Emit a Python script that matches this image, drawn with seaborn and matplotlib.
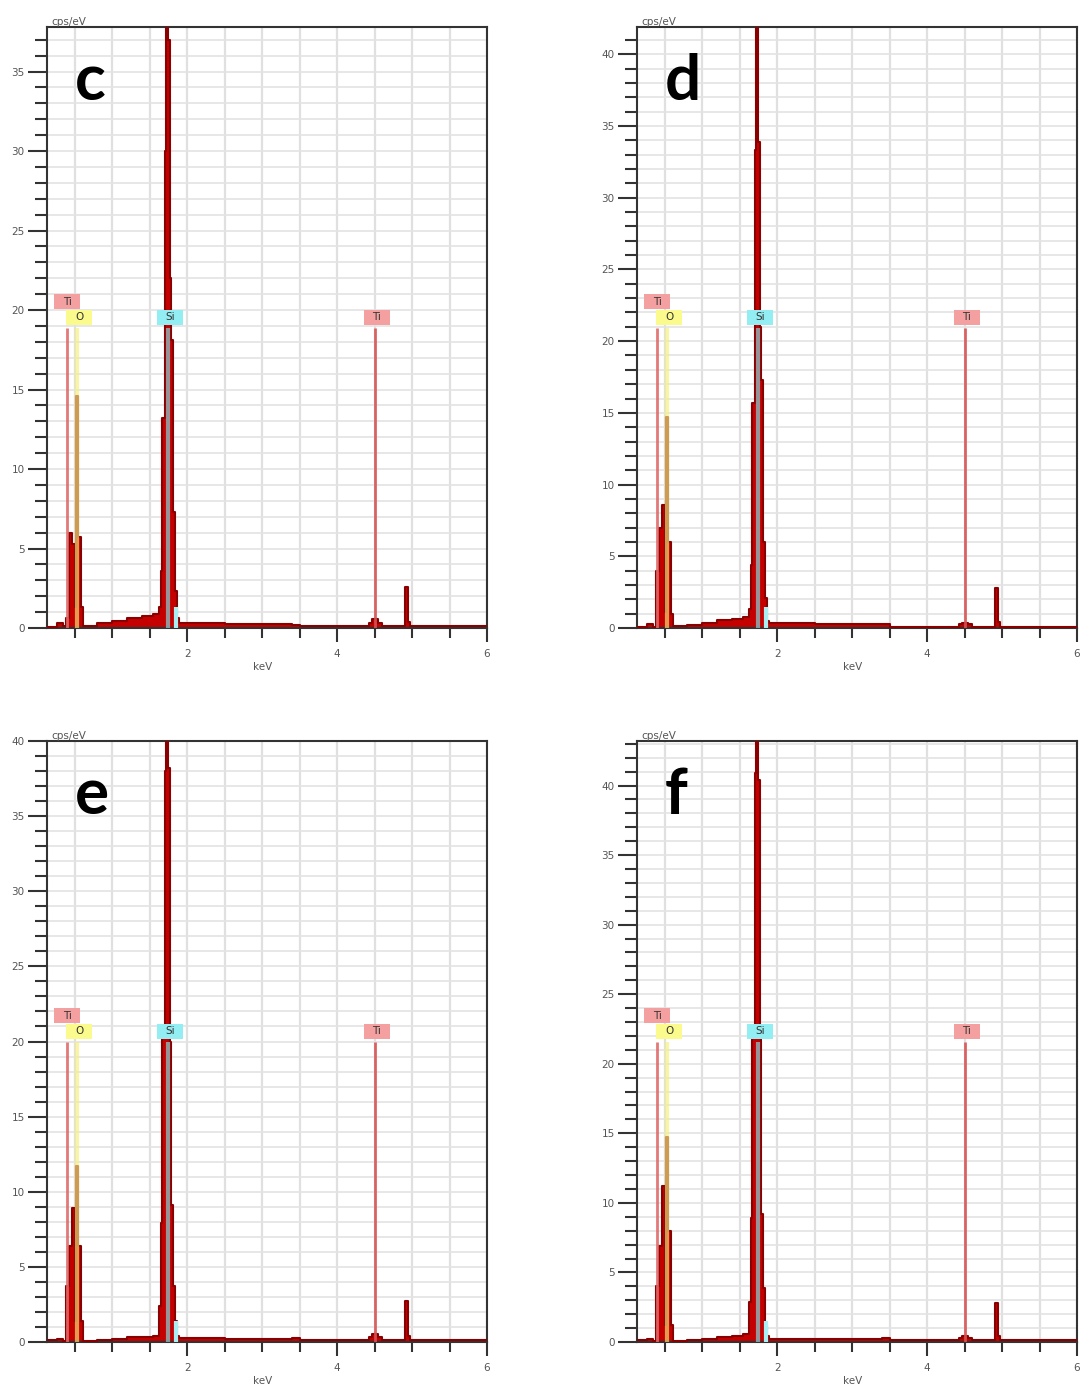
import numpy as np
import matplotlib
matplotlib.use('Agg')
import matplotlib.pyplot as plt
import matplotlib.transforms as mtransforms
from matplotlib.patches import Rectangle
from matplotlib.ticker import MultipleLocator, FixedLocator
import seaborn as sns

# spectrum bins: left edges in keV (last entry closes the final bin)
kev_edges = [0.10, 0.26, 0.34, 0.39, 0.43, 0.47, 0.50, 0.52, 0.55, 0.58, 0.61,
             0.80, 1.00, 1.20, 1.40, 1.55, 1.62, 1.645, 1.67, 1.70, 1.72, 1.745,
             1.765, 1.785, 1.81, 1.835, 1.86, 1.89, 2.50, 3.40, 3.50, 4.00,
             4.42, 4.47, 4.55, 4.60, 4.91, 4.94, 4.97, 6.00]

# cps/eV per bin for each sample
cps_c = [0.08, 0.3, 0.1, 0.6, 6.0, 5.3, 1.3, 14.6, 5.7, 1.3, 0.15, 0.3, 0.45, 0.6,
         0.75, 0.9, 1.3, 3.6, 13.2, 30.0, 40.0, 37.0, 22.0, 18.1, 7.3, 2.3, 0.6,
         0.3, 0.25, 0.2, 0.15, 0.12, 0.3, 0.55, 0.3, 0.12, 2.6, 0.4, 0.12]
cps_d = [0.08, 0.25, 0.1, 4.0, 7.0, 8.6, 1.1, 14.7, 6.0, 1.0, 0.15, 0.2, 0.35, 0.55,
         0.6, 0.8, 1.3, 4.4, 15.7, 33.3, 45.0, 33.9, 21.0, 17.3, 6.0, 2.1, 0.5,
         0.35, 0.3, 0.3, 0.1, 0.1, 0.25, 0.35, 0.25, 0.1, 2.8, 0.4, 0.1]
cps_e = [0.15, 0.2, 0.08, 3.7, 6.4, 8.9, 1.4, 11.7, 6.4, 1.4, 0.08, 0.15, 0.2, 0.3,
         0.35, 0.4, 2.4, 7.9, 21.0, 38.0, 42.0, 38.2, 20.0, 9.1, 3.7, 1.4, 0.4,
         0.25, 0.2, 0.25, 0.15, 0.12, 0.3, 0.5, 0.3, 0.12, 2.7, 0.4, 0.12]
cps_f = [0.12, 0.2, 0.08, 4.0, 6.9, 11.2, 1.2, 14.7, 8.0, 1.2, 0.1, 0.15, 0.25, 0.35,
         0.45, 0.55, 2.9, 8.9, 22.0, 40.9, 46.0, 40.4, 22.0, 9.2, 3.9, 1.2, 0.4,
         0.25, 0.2, 0.3, 0.15, 0.12, 0.3, 0.4, 0.3, 0.12, 2.8, 0.4, 0.12]

panel_names = ['c', 'd', 'e', 'f']
panel_ymax = [37.8, 41.9, 40.0, 43.2]

# element lines
line_names = ['Ti', 'O', 'Si', 'Ti']
line_kev = [0.40, 0.53, 1.74, 4.51]
label_kev = [0.40, 0.56, 1.77, 4.53]
line_colors = ['#e06a6a', '#f5f07a', '#7fe3ea', '#d85454']
box_colors = ['#f4a0a0', '#fbfa8c', '#92eef2', '#f4a0a0']

FILL = '#c40000'
EDGE = '#8a0000'

sns.set_style('white')
plt.rcParams['font.family'] = ['DejaVu Sans']

W, H = 1083, 1389
fig = plt.figure(figsize=(W / 100, H / 100), dpi=100)

# pixel position of each panel (left, top)
panel_px = [(47, 27), (637, 27), (47, 741), (637, 741)]
aw, ah = 440, 601

all_cps = [cps_c, cps_d, cps_e, cps_f]

for i, name in enumerate(panel_names):
    x0, y0 = panel_px[i]
    ax = fig.add_axes([x0 / W, 1 - (y0 + ah) / H, aw / W, ah / H])
    vals = np.append(all_cps[i], all_cps[i][-1])

    ax.fill_between(kev_edges, vals, step='post', color=FILL, lw=0, zorder=2)
    sns.lineplot(x=kev_edges, y=vals, drawstyle='steps-post', color=EDGE, lw=1.5,
                 ax=ax, zorder=3, errorbar=None)

    trans = mtransforms.blended_transform_factory(ax.transData, ax.transAxes)
    for j, el in enumerate(line_names):
        if j == 0:
            ybox = 0.543
        else:
            ybox = 0.517
        alpha = 0.65 if el in ('O', 'Si') else 0.9
        lw = 3 if el in ('O', 'Si') else 2
        ax.plot([line_kev[j], line_kev[j]], [0, 0.50], transform=trans,
                color=line_colors[j], lw=lw, alpha=alpha, zorder=4,
                solid_capstyle='butt')
        ax.add_patch(Rectangle((label_kev[j] - 0.175, ybox - 0.0125), 0.35, 0.025,
                               transform=trans, color=box_colors[j], zorder=5,
                               lw=0))
        ax.text(label_kev[j], ybox, el, transform=trans, fontsize=7.5,
                color='#333333', ha='center', va='center', zorder=6)
    # short Si K-beta marker
    ax.plot([1.845, 1.845], [0, 0.035], transform=trans, color='#a8eef2',
            lw=3, zorder=4, solid_capstyle='butt')

    ax.set_xlim(0.13, 6.0)
    ax.set_ylim(0, panel_ymax[i])
    ax.xaxis.set_major_locator(FixedLocator([2, 4, 6]))
    ax.xaxis.set_minor_locator(MultipleLocator(0.5))
    ax.yaxis.set_major_locator(MultipleLocator(5))
    ax.yaxis.set_minor_locator(MultipleLocator(1))
    ax.set_axisbelow(True)
    ax.grid(which='both', axis='x', color='#e0e0e0', lw=1.6, zorder=0)
    ax.grid(which='both', axis='y', color='#e3e3e3', lw=1.2, zorder=0)

    ax.tick_params(axis='y', which='major', length=14, width=1.5, color='#333333',
                   labelsize=7.5, labelcolor='#555555', pad=2, left=True)
    ax.tick_params(axis='y', which='minor', length=9, width=1.5, color='#333333',
                   left=True)
    ax.tick_params(axis='x', which='major', length=10, width=1.5, color='#333333',
                   labelsize=7.5, labelcolor='#555555', pad=5, bottom=True)
    ax.tick_params(axis='x', which='minor', length=7, width=1.5, color='#333333',
                   bottom=True)
    for sp in ax.spines.values():
        sp.set_color('#333333')
        sp.set_linewidth(1.5)

    ax.set_xlabel('')
    ax.set_ylabel('')
    ax.text(0.01, 1.0, 'cps/eV', transform=ax.transAxes, fontsize=7.5,
            color='#555555', ha='left', va='bottom')
    ax.text(0.49, -0.065, 'keV', transform=ax.transAxes, fontsize=7.5,
            color='#555555', ha='center', va='center')
    ax.text(0.064, 0.878, name, transform=ax.transAxes, fontsize=46,
            fontweight='bold', family=['Lato', 'DejaVu Sans'], color='black',
            ha='left', va='baseline')

fig.savefig('out.png', dpi=100)
